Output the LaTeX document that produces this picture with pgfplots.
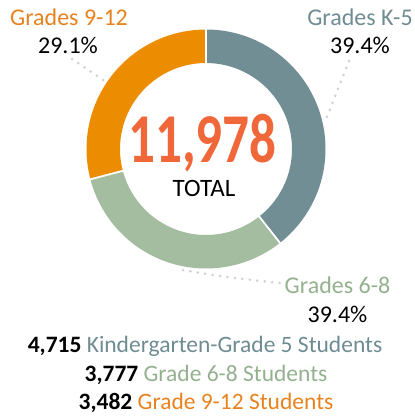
\documentclass[border=0pt]{standalone}
\usepackage{fontspec}
\setmainfont{Carlito}
\usepackage{graphicx}
\usepackage{pgfplots}
\usepackage{pgfplotstable}
\pgfplotsset{compat=1.18}
\definecolor{kfive}{HTML}{728E95}
\definecolor{gsix}{HTML}{A4BC9F}
\definecolor{gnine}{HTML}{EC8C00}
\definecolor{kfivetxt}{HTML}{6F8C93}
\definecolor{gsixtxt}{HTML}{94B18F}
\definecolor{gninetxt}{HTML}{E8821E}
\definecolor{totalc}{HTML}{F0673A}
\definecolor{dotc}{HTML}{D2D2D2}

\pgfplotstableread{
grade value
K5 4715
G68 3777
G912 3482
}\enrollment

\newcommand\ringseg[3]{%
  \fill[#3] ([shift={(#1:119.5pt)}]C) arc[start angle=#1,end angle=#2,radius=119.5pt]
    -- ([shift={(#2:86pt)}]C) arc[start angle=#2,end angle=#1,radius=86pt] -- cycle;}
\newcommand\ringsep[1]{%
  \draw[white,line width=1.8pt] ([shift={(#1:84pt)}]C) -- ([shift={(#1:122pt)}]C);}

\begin{document}
\begin{tikzpicture}
\pgfplotstablegetelem{0}{value}\of\enrollment \let\vA\pgfplotsretval
\pgfplotstablegetelem{1}{value}\of\enrollment \let\vB\pgfplotsretval
\pgfplotstablegetelem{2}{value}\of\enrollment \let\vC\pgfplotsretval
\pgfmathsetmacro\tot{\vA+\vB+\vC}
\pgfmathsetmacro\aA{90-360*(\vA/\tot)}
\pgfmathsetmacro\aB{\aA-360*(\vB/\tot)}
\pgfmathsetmacro\aC{\aB-360*(\vC/\tot)}
\begin{axis}[x=1pt,y=1pt,xmin=0,xmax=415,ymin=0,ymax=416,y dir=reverse,
  hide axis,clip=false]
\path (axis cs:0,0) rectangle (axis cs:415,416);
\coordinate (C) at (axis cs:206,149);
\ringseg{90}{\aA}{kfive}
\ringseg{\aA}{\aB}{gsix}
\ringseg{\aB}{\aC}{gnine}
\ringsep{90}
\ringsep{\aA}
\ringsep{\aB}
% leaders
\draw[dotc,line width=3pt,line cap=round,dash pattern=on 0pt off 7.5pt]
  (axis cs:72,59) -- (axis cs:106,82);
\draw[dotc,line width=3pt,line cap=round,dash pattern=on 0pt off 7.5pt]
  (axis cs:349,61) -- (axis cs:325,122);
\draw[dotc,line width=3pt,line cap=round,dash pattern=on 0pt off 7.5pt]
  (axis cs:183,270) .. controls (axis cs:215,276) and (axis cs:250,280) .. (axis cs:280,283);
% labels
\node[anchor=base,inner sep=0,text=gninetxt,font=\fontsize{24}{28}\selectfont] at (axis cs:69,25) {Grades 9-12};
\node[anchor=base,inner sep=0,font=\fontsize{24}{28}\selectfont] at (axis cs:68,53) {29.1\%};
\node[anchor=base,inner sep=0,text=kfivetxt,font=\fontsize{24}{28}\selectfont] at (axis cs:360,25) {Grades K-5};
\node[anchor=base,inner sep=0,font=\fontsize{24}{28}\selectfont] at (axis cs:360,53) {39.4\%};
\node[anchor=base,inner sep=0,text=gsixtxt,font=\fontsize{24}{28}\selectfont] at (axis cs:337.5,293) {Grades 6-8};
\node[anchor=base,inner sep=0,font=\fontsize{24}{28}\selectfont] at (axis cs:337.5,322) {39.4\%};
% centre
\node[anchor=base,inner sep=0,text=totalc,font=\bfseries\fontsize{70}{80}\selectfont] at (axis cs:202.5,162) {\scalebox{0.76}[1]{11,978}};
\node[anchor=base,inner sep=0,font=\fontsize{25}{30}\selectfont] at (axis cs:204,196) {TOTAL};
% bottom lines
\node[anchor=base,inner sep=0,font=\fontsize{23.5}{28}\selectfont] at (axis cs:205,352) {\textbf{4,715} \textcolor{kfivetxt}{Kindergarten-Grade 5 Students}};
\node[anchor=base,inner sep=0,font=\fontsize{23.5}{28}\selectfont] at (axis cs:206,381) {\textbf{3,777} \textcolor{gsixtxt}{Grade 6-8 Students}};
\node[anchor=base,inner sep=0,font=\fontsize{23.5}{28}\selectfont] at (axis cs:206,409) {\textbf{3,482} \textcolor{gninetxt}{Grade 9-12 Students}};
\end{axis}
\end{tikzpicture}
\end{document}
